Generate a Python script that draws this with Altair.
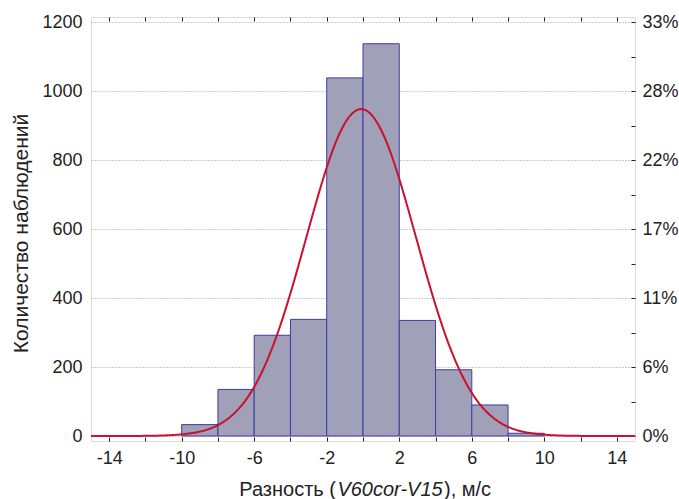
import altair as alt
import pandas as pd

# ---- data ----
bin_start = [-10, -8, -6, -4, -2, 0, 2, 4, 6, 8]
bin_end = [-8, -6, -4, -2, 0, 2, 4, 6, 8, 10]
counts = [33, 135, 292, 338, 1038, 1137, 335, 192, 90, 8]

# fitted normal curve parameters
fit_mean = -0.1
fit_sd = 3.03
bin_width = 2

x_minor_ticks = [-14, -12, -10, -8, -6, -4, -2, 0, 2, 4, 6, 8, 10, 12, 14]
x_labels = [-14, -10, -6, -2, 2, 6, 10, 14]
y_labels = [0, 200, 400, 600, 800, 1000, 1200]
y_minor_ticks = [0, 100, 200, 300, 400, 500, 600, 700, 800, 900, 1000, 1100, 1200]

x_title_a = "Разность ("
x_title_b = "V60cor-V15"
x_title_c = "), м/с"
y_title = "Количество наблюдений"

n_total = sum(counts)

W, H = 544, 424
FONT = "Liberation Sans"
LBL = 18
TTL = 20
TXT = "#222222"

bars_df = pd.DataFrame({"start": bin_start, "end": bin_end, "count": counts})

xscale = alt.Scale(domain=[-15, 15], nice=False, zero=False)
yscale = alt.Scale(domain=[0, 1200], nice=False)

bars = alt.Chart(bars_df).mark_bar(
    fill="#a0a0b8", stroke="#3c3ca4", strokeWidth=1
).encode(
    x=alt.X("start:Q", scale=xscale,
            axis=alt.Axis(values=x_labels, orient="bottom", tickSize=0,
                          labelPadding=8, grid=False, title=None,
                          labelExpr="'' + datum.value",
                          labelFont=FONT, labelFontSize=LBL, labelColor=TXT,
                          domain=False)),
    x2="end:Q",
    y=alt.Y("count:Q", scale=yscale,
            axis=alt.Axis(values=y_labels, orient="left", tickSize=0,
                          labelPadding=9, grid=True, gridColor="#9a9a9a",
                          gridDash=[1, 2], gridWidth=1,
                          labelExpr="'' + datum.value",
                          title=y_title, titleX=-70, titleY=216,
                          titleBaseline="middle", titleAlign="center",
                          labelFont=FONT, labelFontSize=LBL, labelColor=TXT,
                          titleFont=FONT, titleFontSize=21, titleColor=TXT,
                          titleFontWeight="normal", domain=False)),
    y2=alt.datum(0),
)

curve_expr = (
    f"{n_total * bin_width} / ({fit_sd} * sqrt(2 * PI)) * "
    f"exp(-pow(datum.x - ({fit_mean}), 2) / (2 * {fit_sd} * {fit_sd}))"
)

pct_expr = f"format(datum.value / {n_total} * 100, '.0f') + '%'"

curve = alt.Chart(alt.sequence(-15, 15.001, 0.1, as_="x")).transform_calculate(
    y=curve_expr
).mark_line(color="#cc1030", strokeWidth=2).encode(
    x=alt.X("x:Q", scale=xscale,
            axis=alt.Axis(values=x_minor_ticks, orient="top", offset=-H,
                          labels=False, tickSize=4, tickColor=TXT,
                          grid=False, title=None, domain=False)),
    y=alt.Y("y:Q", scale=yscale,
            axis=alt.Axis(values=y_labels, orient="right", tickSize=0,
                          labelPadding=7, grid=False, title=None,
                          labelExpr=pct_expr,
                          labelFont=FONT, labelFontSize=LBL, labelColor=TXT,
                          domain=False)),
)

ticks_layer = alt.Chart(bars_df).mark_bar(opacity=0).encode(
    x=alt.X("start:Q", scale=xscale,
            axis=alt.Axis(values=x_minor_ticks, orient="bottom", offset=-H,
                          labels=False, tickSize=4, tickColor=TXT,
                          grid=False, title=None, domain=False)),
    x2="end:Q",
    y=alt.Y("count:Q", scale=yscale,
            axis=alt.Axis(values=y_minor_ticks, orient="left", offset=-W,
                          labels=False, tickSize=4, tickColor=TXT,
                          grid=False, title=None, domain=False)),
)

# x-axis title with an italic middle part
TITLE_Y = H + 55
MID_X = 299
HALF = 53
title_a = alt.Chart(pd.DataFrame({"t": [x_title_a]})).mark_text(
    font=FONT, fontSize=TTL, color=TXT, align="right", baseline="alphabetic"
).encode(text="t:N", x=alt.value(MID_X - HALF - 1), y=alt.value(TITLE_Y))
title_b = alt.Chart(pd.DataFrame({"t": [x_title_b]})).mark_text(
    font=FONT, fontSize=TTL, color=TXT, fontStyle="italic", align="center",
    baseline="alphabetic"
).encode(text="t:N", x=alt.value(MID_X), y=alt.value(TITLE_Y))
title_c = alt.Chart(pd.DataFrame({"t": [x_title_c]})).mark_text(
    font=FONT, fontSize=TTL, color=TXT, align="left", baseline="alphabetic"
).encode(text="t:N", x=alt.value(MID_X + HALF + 1), y=alt.value(TITLE_Y))

chart = alt.layer(bars, curve, ticks_layer, title_a, title_b, title_c).resolve_axis(
    x="independent", y="independent"
).properties(
    width=W, height=H,
    autosize=alt.AutoSizeParams(type="none"),
    padding={"left": 91, "top": 17, "right": 679 - 91 - W, "bottom": 499 - 17 - H},
).configure_view(
    stroke="#1a1a1a", strokeWidth=1
).configure(background="white")

chart.save("out.html", embed_options={"renderer": "svg", "actions": False})
